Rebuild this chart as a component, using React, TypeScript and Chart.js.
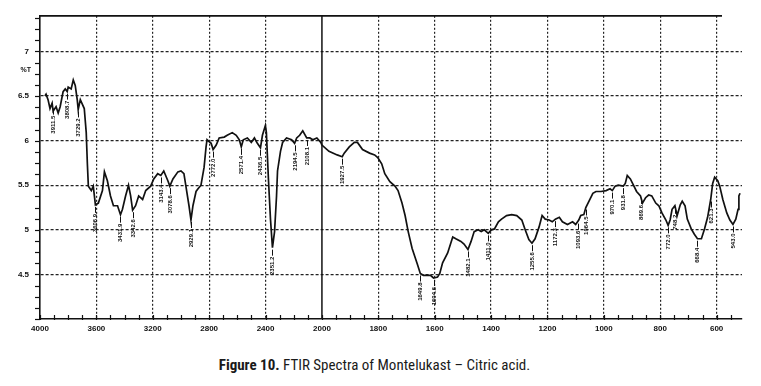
import React, { useEffect, useRef } from "react";
import { Chart, registerables } from "chart.js";
Chart.register(...registerables);

// Wavenumbers (cm-1), decreasing
const wavenumbers = [
  3965, 3957, 3943, 3929, 3914, 3907, 3886, 3871, 3857, 3836,
  3821, 3807, 3800, 3779, 3764, 3750, 3736, 3729, 3714, 3700,
  3686, 3672, 3664, 3657, 3636, 3622, 3607, 3586, 3557, 3543,
  3522, 3500, 3479, 3450, 3429, 3415, 3393, 3372, 3357, 3343,
  3322, 3300, 3272, 3250, 3215, 3193, 3165, 3143, 3122, 3093,
  3079, 3057, 3022, 3000, 2979, 2965, 2943, 2929, 2915, 2893,
  2879, 2858, 2836, 2822, 2815, 2786, 2772, 2750, 2729, 2693,
  2672, 2636, 2608, 2586, 2572, 2558, 2529, 2501, 2479, 2458,
  2436, 2422, 2401, 2394, 2379, 2365, 2351, 2336, 2322, 2315,
  2294, 2279, 2251, 2215, 2194, 2179, 2158, 2136, 2108, 2086,
  2065, 2036, 2008,
  2000, 1975, 1946, 1928, 1921, 1903, 1885, 1874, 1856, 1831,
  1813, 1802, 1788, 1777, 1759, 1741, 1730, 1716, 1705, 1694,
  1680, 1662, 1651, 1640, 1615, 1604, 1590, 1582, 1572, 1554,
  1536, 1525, 1507, 1496, 1482, 1471, 1460, 1446, 1435, 1424,
  1410, 1399, 1388, 1374, 1363, 1345, 1327, 1309, 1291, 1280,
  1266, 1255, 1244, 1230, 1219, 1208, 1194, 1183, 1172, 1158,
  1147, 1129, 1111, 1100, 1089, 1082, 1071, 1064, 1050, 1039,
  1028, 1010, 992, 978, 970, 960, 949, 931, 924, 917,
  906, 895, 884, 870, 863, 852, 841, 830, 816, 805,
  794, 780, 772, 765, 758, 748, 740, 729, 722, 712,
  704, 690, 679, 668, 654, 643, 632, 621, 614, 607,
  596, 589, 578, 564, 553, 542, 532, 524, 521, 517,
];

// %T values
const transmittance = [
  6.50, 6.52, 6.46, 6.36, 6.42, 6.33, 6.38, 6.31, 6.38, 6.55,
  6.58, 6.55, 6.60, 6.58, 6.68, 6.62, 6.46, 6.35, 6.46, 6.41,
  6.36, 6.09, 5.74, 5.49, 5.44, 5.49, 5.28, 5.30, 5.44, 5.65,
  5.55, 5.38, 5.27, 5.27, 5.17, 5.23, 5.38, 5.50, 5.38, 5.22,
  5.27, 5.38, 5.34, 5.44, 5.49, 5.57, 5.63, 5.61, 5.66, 5.55,
  5.49, 5.57, 5.65, 5.66, 5.63, 5.49, 5.27, 5.11, 5.27, 5.43,
  5.46, 5.50, 5.70, 5.93, 6.01, 5.97, 5.90, 5.95, 6.03, 6.04,
  6.06, 6.09, 6.06, 6.01, 5.93, 6.01, 6.03, 5.98, 6.03, 5.97,
  5.92, 6.06, 6.17, 6.09, 5.55, 5.12, 4.80, 4.98, 5.38, 5.66,
  5.88, 5.98, 6.03, 6.01, 5.97, 6.03, 6.06, 6.11, 6.03, 6.03,
  6.01, 6.03, 5.98,
  5.95, 5.88, 5.84, 5.82, 5.86, 5.93, 5.98, 5.98, 5.90, 5.86,
  5.84, 5.81, 5.74, 5.63, 5.54, 5.49, 5.44, 5.30, 5.16, 4.98,
  4.79, 4.62, 4.51, 4.49, 4.49, 4.46, 4.47, 4.51, 4.63, 4.74,
  4.92, 4.90, 4.87, 4.84, 4.78, 4.87, 4.98, 5.00, 4.98, 5.00,
  4.96, 5.00, 5.01, 5.09, 5.12, 5.16, 5.17, 5.16, 5.11, 5.01,
  4.89, 4.85, 4.90, 5.03, 5.16, 5.12, 5.11, 5.09, 5.12, 5.14,
  5.09, 5.06, 5.09, 5.06, 5.11, 5.16, 5.17, 5.25, 5.34, 5.41,
  5.43, 5.43, 5.44, 5.46, 5.44, 5.49, 5.50, 5.49, 5.52, 5.61,
  5.57, 5.50, 5.43, 5.38, 5.30, 5.36, 5.39, 5.38, 5.30, 5.27,
  5.19, 5.11, 5.05, 5.11, 5.23, 5.27, 5.16, 5.28, 5.32, 5.27,
  5.12, 5.01, 4.95, 4.90, 4.90, 5.01, 5.14, 5.34, 5.52, 5.59,
  5.55, 5.49, 5.34, 5.19, 5.11, 5.06, 5.12, 5.23, 5.38, 5.41,
];

const xTickLabels = [4000, 3600, 3200, 2800, 2400, 2000, 1800, 1600, 1400, 1200, 1000, 800, 600];
const yTickLabels = [4.5, 5, 5.5, 6, 6.5, 7];

const peakWavenumbers = [
  3911, 3807, 3729, 3607, 3429, 3343, 3143, 3079, 2929, 2772, 2572, 2436, 2351, 2194, 2108,
  1928, 1651, 1604, 1482, 1410, 1255, 1172, 1093, 1064, 970, 931, 870, 772, 748, 668, 621, 542,
];
const peakLabels = [
  "3911.5", "3808.7", "3729.2", "3606.9", "3431.9", "3342.6", "3143.4", "3078.6", "2929.1", "2772.0", "2571.4", "2436.5", "2351.2", "2194.5", "2108.1",
  "1927.5", "1649.8", "1604.6", "1482.1", "1411.0", "1255.6", "1172.3", "1093.6", "1064.5", "970.1", "931.8", "869.6", "772.0", "748.2", "668.4", "621.3", "543.0",
];

// Spectrometer abscissa: scale halves above 2000 cm-1
const toU = (wn: number) => (wn > 2000 ? 2000 + (wn - 2000) / 2 : wn);
const fromU = (u: number) => (u > 2000 ? 2000 + (u - 2000) * 2 : u);

function interpT(wn: number) {
  for (let i = 0; i < wavenumbers.length - 1; i++) {
    const a = wavenumbers[i], b = wavenumbers[i + 1];
    if (wn <= a && wn >= b) {
      const t = (a - wn) / (a - b || 1);
      return transmittance[i] + t * (transmittance[i + 1] - transmittance[i]);
    }
  }
  return transmittance[transmittance.length - 1];
}

const INK = "#111111";

const decorPlugin = {
  id: "decor",
  afterDraw(chart: any) {
    const { ctx, chartArea, scales } = chart;
    const x = scales.x, y = scales.y;
    const { left, right, top, bottom } = chartArea;
    ctx.save();
    ctx.strokeStyle = INK;
    const line = (x1: number, y1: number, x2: number, y2: number) => {
      ctx.beginPath();
      ctx.moveTo(x1, y1);
      ctx.lineTo(x2, y2);
      ctx.stroke();
    };
    // top frame
    ctx.lineWidth = 1.8;
    line(left, top, right - 20, top);
    // solid line at the scale change (2000)
    ctx.lineWidth = 1.5;
    const x2000 = x.getPixelForValue(2000);
    line(x2000, top, x2000, bottom);
    // y minor ticks
    ctx.lineWidth = 1.2;
    for (let v = 4.0; v <= 7.4001; v += 0.125) {
      const py = Math.round(y.getPixelForValue(v)) + 0.5;
      line(left - 5, py, left, py);
    }
    // x minor ticks
    for (let u = 550; u <= 3000; u += 50) {
      const px = Math.round(x.getPixelForValue(u)) + 0.5;
      line(px, bottom - 4, px, bottom + 1);
    }
    // %T label
    ctx.fillStyle = INK;
    ctx.font = "bold 7px 'Liberation Sans', Arial, sans-serif";
    ctx.textAlign = "right";
    ctx.textBaseline = "middle";
    ctx.fillText("%T", 31, 70);
    // peak annotations
    ctx.font = "bold 6px 'Liberation Sans', Arial, sans-serif";
    ctx.lineWidth = 1;
    peakWavenumbers.forEach((wn, i) => {
      const px = Math.round(x.getPixelForValue(toU(wn))) + 0.5;
      const py = y.getPixelForValue(interpT(wn));
      line(px, py + 2, px, py + 8);
      ctx.save();
      ctx.translate(px, py + 9);
      ctx.rotate(-Math.PI / 2);
      ctx.textAlign = "right";
      ctx.textBaseline = "middle";
      ctx.fillText(peakLabels[i], 0, 0);
      ctx.restore();
    });
    ctx.restore();
  },
};

export default function App() {
  const ref = useRef<HTMLCanvasElement>(null);
  useEffect(() => {
    document.body.style.margin = "0";
    const tickFont = { family: "'Liberation Sans', Arial, sans-serif", size: 8, weight: "bold" as const };
    const chart = new Chart(ref.current as HTMLCanvasElement, {
      type: "line",
      data: {
        datasets: [
          {
            data: wavenumbers.map((w, i) => ({ x: toU(w), y: transmittance[i] })),
            borderColor: INK,
            borderWidth: 1.7,
            pointRadius: 0,
            tension: 0,
            fill: false,
          },
        ],
      },
      options: {
        responsive: false,
        animation: false,
        devicePixelRatio: 1,
        layout: { padding: { top: 10, right: 19, left: 0, bottom: 0 } },
        plugins: { legend: { display: false }, tooltip: { enabled: false } },
        scales: {
          x: {
            type: "linear",
            reverse: true,
            min: 510,
            max: 3000,
            afterBuildTicks: (s: any) => {
              s.ticks = xTickLabels.map((w) => ({ value: toU(w) }));
            },
            afterFit: (s: any) => {
              s.height = 26;
            },
            ticks: {
              autoSkip: false,
              maxRotation: 0,
              padding: 5,
              color: INK,
              font: tickFont,
              callback: (v: any) => String(Math.round(fromU(Number(v)))),
            },
            grid: {
              drawTicks: false,
              lineWidth: 1.2,
              color: (c: any) =>
                c.tick && (c.tick.value === 2000 || c.tick.value === 3000) ? "rgba(0,0,0,0)" : "#222",
            },
            border: { display: true, color: INK, width: 1.6, dash: [2, 2] },
          },
          y: {
            type: "linear",
            min: 4.0,
            max: 7.4,
            afterBuildTicks: (s: any) => {
              s.ticks = yTickLabels.map((v) => ({ value: v }));
            },
            afterFit: (s: any) => {
              s.width = 40;
            },
            ticks: {
              padding: 11,
              color: INK,
              font: tickFont,
              callback: (v: any) => String(v),
            },
            grid: { drawTicks: false, lineWidth: 1.2, color: "#222" },
            border: { display: true, color: INK, width: 1.6, dash: [3, 2] },
          },
        },
      },
      plugins: [decorPlugin],
    } as any);
    return () => chart.destroy();
  }, []);

  return (
    <div style={{ position: "relative", width: 761, height: 386, background: "#fff" }}>
      <canvas ref={ref} width={761} height={345} style={{ display: "block", width: 761, height: 345 }} />
      <div
        style={{
          position: "absolute",
          top: 356,
          left: 0,
          width: 749,
          textAlign: "center",
          fontFamily: "'Liberation Sans Narrow', 'Roboto Condensed', Roboto, sans-serif",
          fontSize: 15,
          color: "#1a1a1a",
          whiteSpace: "nowrap",
        }}
      >
        <b>Figure 10.</b> FTIR Spectra of Montelukast – Citric acid.
      </div>
    </div>
  );
}
